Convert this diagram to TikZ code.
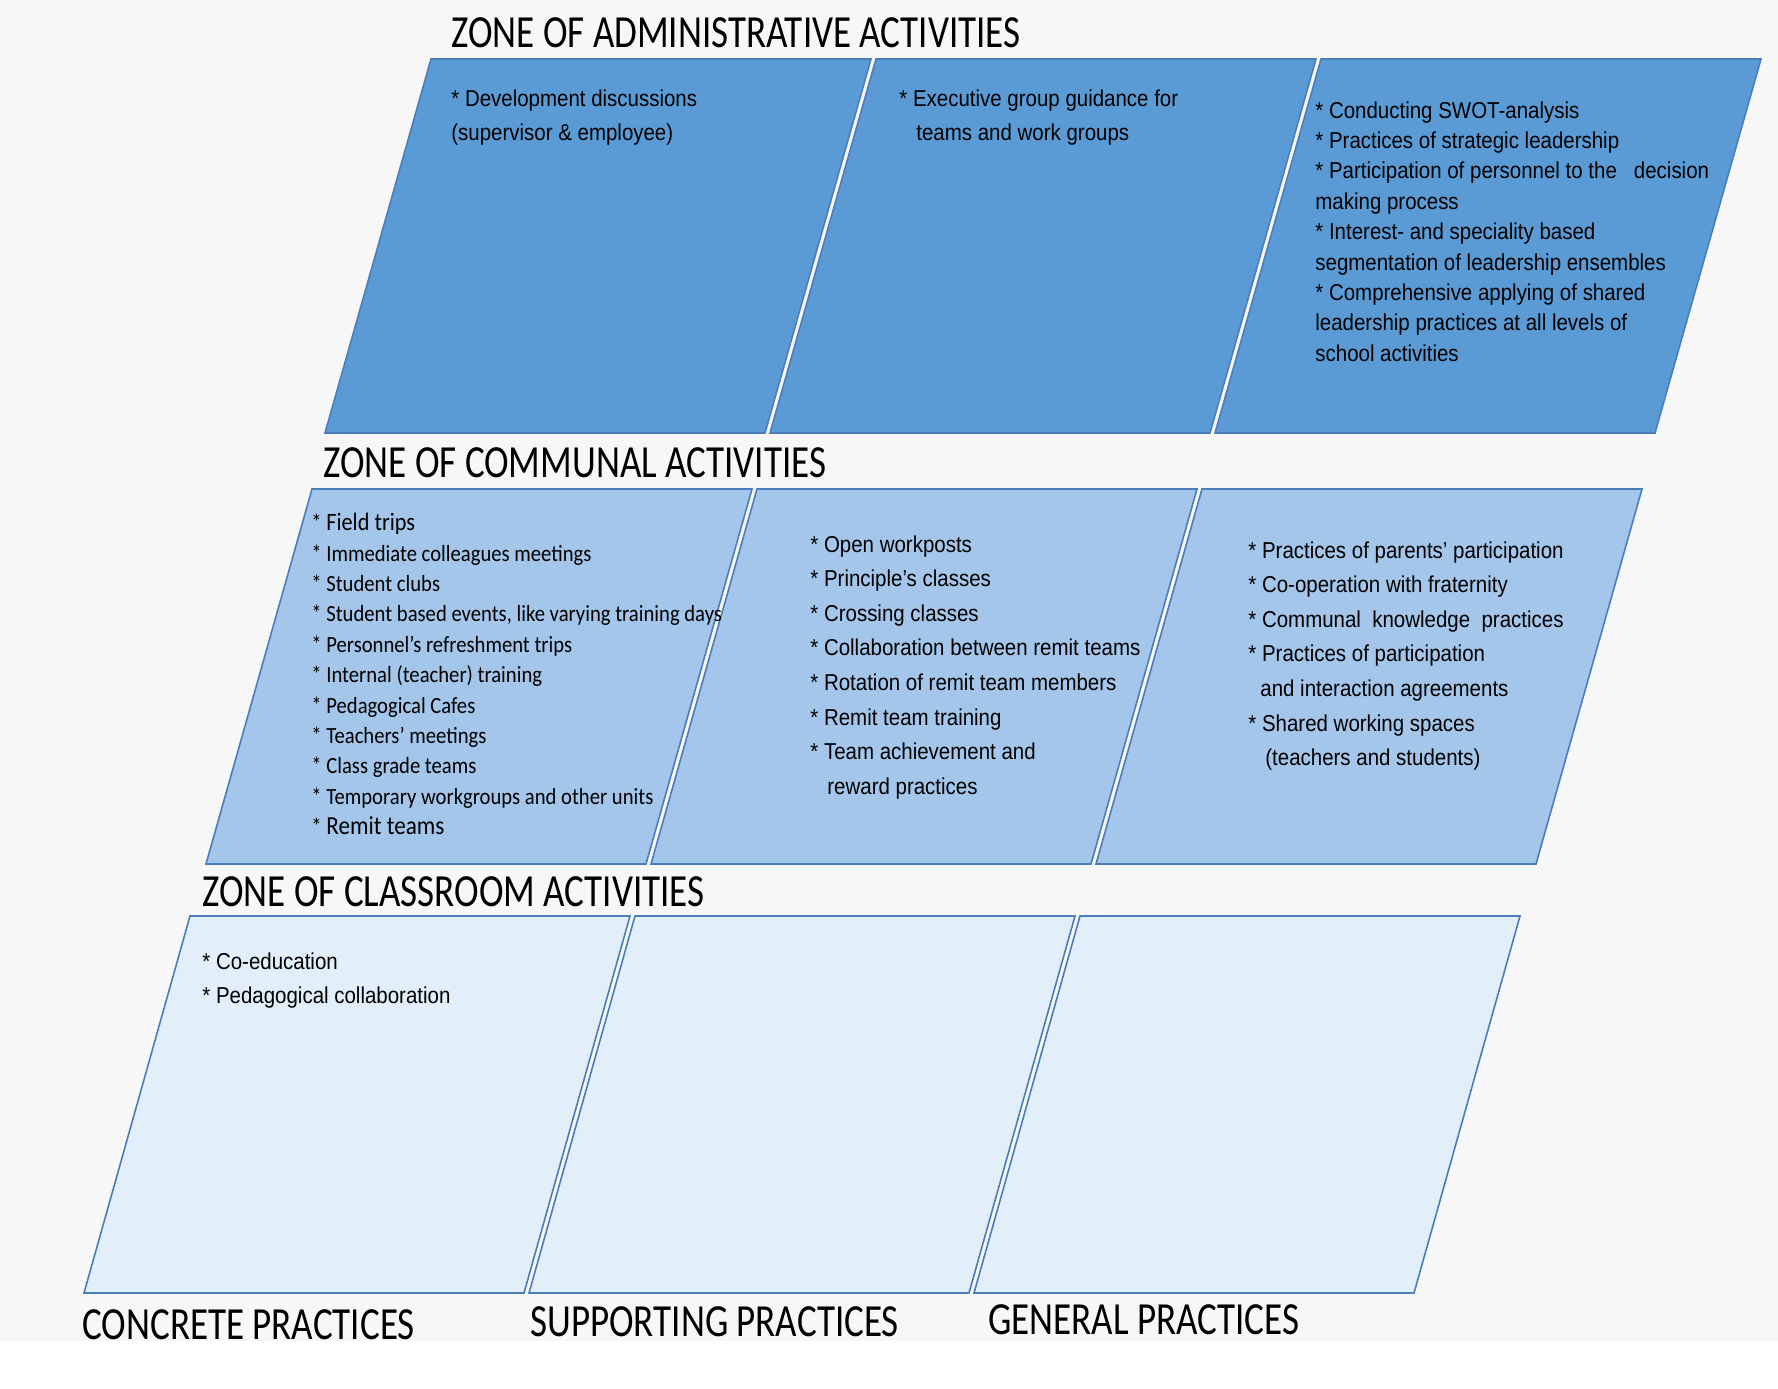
\documentclass[tikz,border=0pt]{standalone}
\usepackage{fontspec}
\newfontfamily\zonefont{Carlito}[FakeStretch=0.805]
\newfontfamily\itemfont{Liberation Sans}[FakeStretch=0.89]
\newfontfamily\listfont{Carlito}[FakeStretch=0.89]
\definecolor{page}    {HTML}{F7F7F7}
\definecolor{blue500} {HTML}{5B9BD5}
\definecolor{blue300} {HTML}{A4C6EA}
\definecolor{blue100} {HTML}{E2EEF9}
\definecolor{blue700} {HTML}{4A7EBB}
\tikzset{
  zone/.style  ={font=\zonefont\fontsize{23}{26}\selectfont, anchor=west,
                 inner sep=0pt},
  items/.style ={font=\itemfont\fontsize{11.5}{17.3}\selectfont, align=left,
                 anchor=north west, inner sep=0pt},
  itemt/.style ={items, font=\itemfont\fontsize{11.5}{15.2}\selectfont},
  list/.style  ={font=\listfont\fontsize{11.6}{15.2}\selectfont, align=left,
                 anchor=north west, inner sep=0pt},
  padm/.style  ={draw=blue700, line width=0.8pt, fill=blue500},
  pcom/.style  ={draw=blue700, line width=0.8pt, fill=blue300},
  pcls/.style  ={draw=blue700, line width=0.8pt, fill=blue100}
}

\begin{document}
\begin{tikzpicture}[x=0.5pt,y=-0.5pt]
\useasboundingbox (0,0) rectangle (1778,1388);
\fill[page] (0,0) rectangle (1778,1341);

% three rows of slanted panels
\foreach \bx in {325,770,1215}
  \draw[padm] (\bx,433) -- ++(440,0) -- ++(106,-374) -- ++(-440,0) -- cycle;
\foreach \bx in {206,651,1096}
  \draw[pcom] (\bx,864) -- ++(440,0) -- ++(106,-375) -- ++(-440,0) -- cycle;
\foreach \bx in {84,529,974}
  \draw[pcls] (\bx,1293) -- ++(440,0) -- ++(106,-377) -- ++(-440,0) -- cycle;

% zone titles
\node[zone] (zadm) at (451,33)  {ZONE OF ADMINISTRATIVE ACTIVITIES};
\node[zone] (zcom) at (323,463) {ZONE OF COMMUNAL ACTIVITIES};
\node[zone] (zcls) at (202,892) {ZONE OF CLASSROOM ACTIVITIES};

% administrative zone
\node[items] (adm1) at (451,89)
  {* Development discussions\\(supervisor \& employee)};
\node[items] (adm2) at (899,89)
  {* Executive group guidance for\\\hspace{8.5pt}teams and work groups};
\node[itemt] (adm3) at (1315,101)
  {* Conducting SWOT-analysis\\
   * Practices of strategic leadership\\
   * Participation of personnel to the \ \ decision\\
   making process\\
   * Interest- and speciality based\\
   segmentation of leadership ensembles\\
   * Comprehensive applying of shared\\
   leadership practices at all levels of\\
   school activities};

% communal zone
\node[list] (com1) at (311,513)
  {* {\fontsize{12.5}{15.2}\selectfont Field trips}\\
   * Immediate colleagues meetings\\
   * Student clubs\\
   * Student based events, like varying training days\\
   * Personnel’s refreshment trips\\
   * Internal (teacher) training\\
   * Pedagogical Cafes\\
   * Teachers’ meetings\\
   * Class grade teams\\
   * Temporary workgroups and other units\\
   * {\fontsize{13}{15.2}\selectfont Remit teams}};
\node[items] (com2) at (810,535)
  {* Open workposts\\
   * Principle’s classes\\
   * Crossing classes\\
   * Collaboration between remit teams\\
   * Rotation of remit team members\\
   * Remit team training\\
   * Team achievement and\\
   \hspace{8.5pt}reward practices};
\node[items] (com3) at (1248,541)
  {* Practices of parents’ participation\\
   * Co-operation with fraternity\\
   * Communal \ knowledge \ practices\\
   * Practices of participation\\
   \hspace{6pt}and interaction agreements\\
   * Shared working spaces\\
   \hspace{8.5pt}(teachers and students)};

% classroom zone
\node[items] (cls1) at (202,952)
  {* Co-education\\* Pedagogical collaboration};

% practice labels
\node[zone] (pcon) at (82,1325)  {CONCRETE PRACTICES};
\node[zone] (psup) at (530,1322) {SUPPORTING PRACTICES};
\node[zone] (pgen) at (988,1320) {GENERAL PRACTICES};
\end{tikzpicture}
\end{document}
